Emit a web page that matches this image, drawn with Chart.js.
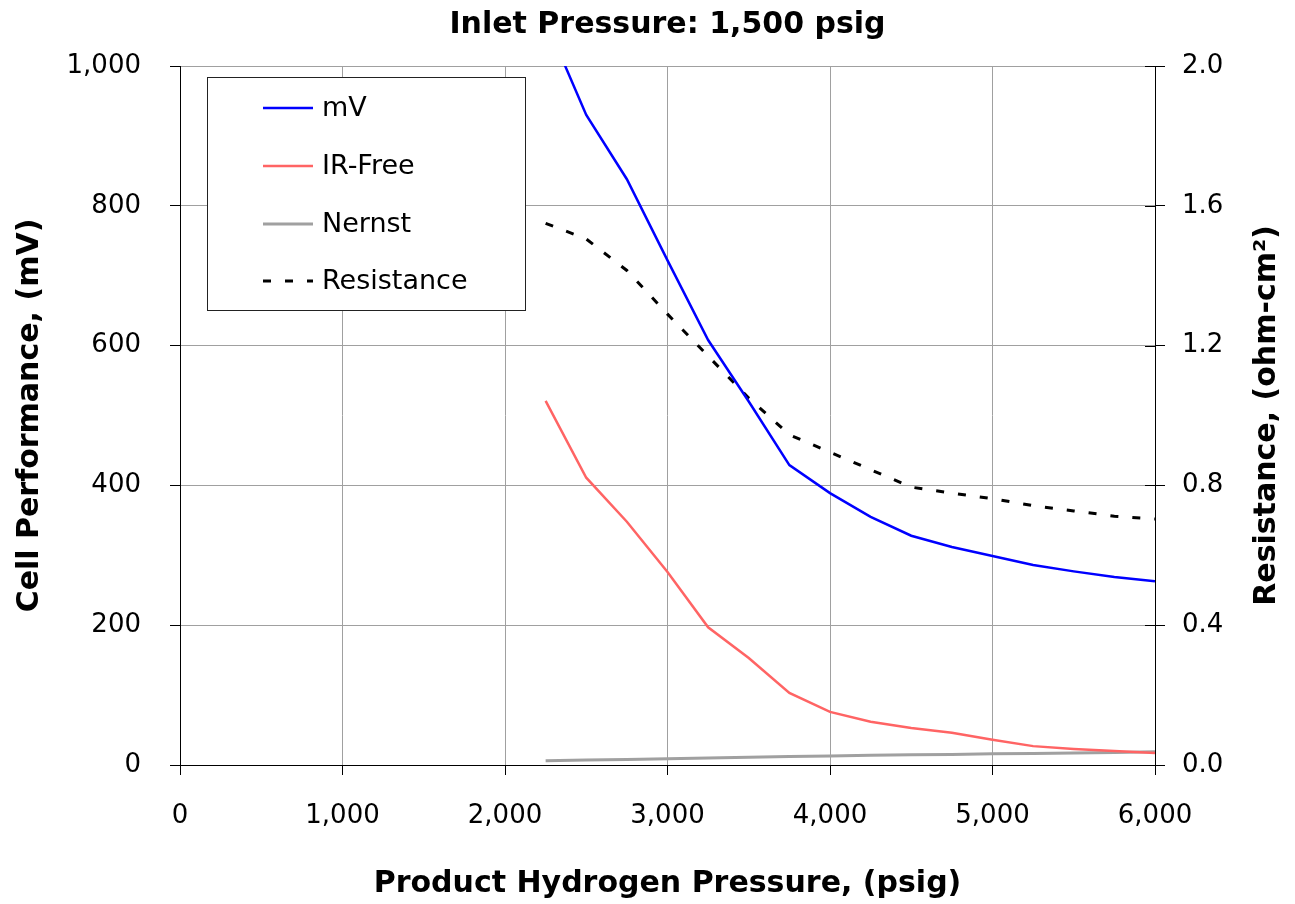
<!DOCTYPE html>
<html>
<head>
<meta charset="utf-8">
<script src="https://cdn.jsdelivr.net/npm/chart.js@4.4.1/dist/chart.umd.min.js"></script>
<style>
  html, body { margin: 0; padding: 0; background: #ffffff; }
  #wrap { width: 1295px; height: 904px; position: relative; }
</style>
</head>
<body>
<div id="wrap"><canvas id="c"></canvas></div>
<script>
// ---- Data ----
const chartTitle = 'Inlet Pressure: 1,500 psig';
const xTitle = 'Product Hydrogen Pressure, (psig)';
const yTitle = 'Cell Performance, (mV)';
const y2Title = 'Resistance, (ohm-cm\u00B2)';

const pressure   = [2250, 2500, 2750, 3000, 3250, 3500, 3750, 4000, 4250, 4500, 4750, 5000, 5250, 5500, 5750, 6000];
const mV         = [1065, 930, 838, 722, 608, 520, 429, 389, 355, 328, 312, 299, 286, 277, 269, 263];
const irFree     = [521, 411, 348, 276, 197, 153, 103, 76, 62, 53, 46, 36, 27, 23, 20, 17];
const nernst     = [6, 7, 8, 9, 10, 11, 12, 13, 14, 14.5, 15, 16, 16.5, 17, 18, 19];
const resistance = [1.55, 1.505, 1.415, 1.29, 1.17, 1.05, 0.945, 0.895, 0.845, 0.795, 0.778, 0.762, 0.742, 0.727, 0.712, 0.704];

const seriesNames = ['mV', 'IR-Free', 'Nernst', 'Resistance'];

const toPts = (xs, ys) => xs.map((x, i) => ({ x: x, y: ys[i] }));

const FONT = '"DejaVu Sans", Arial, sans-serif';

// Legend drawn inside the plot area, in a framed box
const boxLegend = {
  id: 'boxLegend',
  afterDatasetsDraw(chart) {
    const ctx = chart.ctx;
    const bx = 207.5, by = 77.5, bw = 318, bh = 233;
    ctx.save();
    ctx.fillStyle = '#ffffff';
    ctx.fillRect(bx, by, bw, bh);
    ctx.strokeStyle = '#222222';
    ctx.lineWidth = 1;
    ctx.strokeRect(bx, by, bw, bh);
    const rows = [108, 166, 224, 281];
    chart.data.datasets.forEach((ds, i) => {
      const y = rows[i];
      ctx.beginPath();
      ctx.strokeStyle = ds.borderColor;
      ctx.lineWidth = ds.borderWidth;
      ctx.setLineDash(ds.borderDash || []);
      ctx.moveTo(263, y);
      ctx.lineTo(313, y);
      ctx.stroke();
      ctx.setLineDash([]);
      ctx.fillStyle = '#000000';
      ctx.font = '27px ' + FONT;
      ctx.textBaseline = 'middle';
      ctx.textAlign = 'left';
      ctx.fillText(ds.label, 322, y + 1);
    });
    ctx.restore();
  }
};

// Right axis tick marks also cross into the plot area
const innerTicks = {
  id: 'innerTicks',
  beforeDatasetsDraw(chart) {
    const s = chart.scales.y2;
    const ctx = chart.ctx;
    ctx.save();
    ctx.strokeStyle = '#000000';
    ctx.lineWidth = 1;
    s.ticks.forEach(t => {
      const py = Math.round(s.getPixelForValue(t.value)) + 0.5;
      ctx.beginPath();
      ctx.moveTo(s.left - 10, py);
      ctx.lineTo(s.left, py);
      ctx.stroke();
    });
    ctx.restore();
  }
};

// Right axis title reads bottom-to-top, like the left one
const rightTitle = {
  id: 'rightTitle',
  afterDraw(chart) {
    const s = chart.scales.y2;
    const ctx = chart.ctx;
    ctx.save();
    ctx.translate(1267, (s.top + s.bottom) / 2);
    ctx.rotate(-Math.PI / 2);
    ctx.fillStyle = '#000000';
    ctx.font = 'bold 30px ' + FONT;
    ctx.textAlign = 'center';
    ctx.textBaseline = 'middle';
    ctx.fillText(y2Title, 0, 0);
    ctx.restore();
  }
};

new Chart(document.getElementById('c'), {
  type: 'line',
  data: {
    datasets: [
      { label: seriesNames[0], data: toPts(pressure, mV), yAxisID: 'y',
        borderColor: '#0000ff', borderWidth: 2.5, pointRadius: 0, tension: 0, fill: false },
      { label: seriesNames[1], data: toPts(pressure, irFree), yAxisID: 'y',
        borderColor: '#ff6464', borderWidth: 2.5, pointRadius: 0, tension: 0, fill: false },
      { label: seriesNames[2], data: toPts(pressure, nernst), yAxisID: 'y',
        borderColor: '#a0a0a0', borderWidth: 3, pointRadius: 0, tension: 0, fill: false },
      { label: seriesNames[3], data: toPts(pressure, resistance), yAxisID: 'y2',
        borderColor: '#000000', borderWidth: 3, borderDash: [8, 14], pointRadius: 0, tension: 0, fill: false }
    ]
  },
  options: {
    responsive: true,
    maintainAspectRatio: false,
    animation: false,
    layout: { padding: 0 },
    plugins: {
      legend: { display: false },
      tooltip: { enabled: false },
      title: {
        display: true,
        text: chartTitle,
        fullSize: false,
        color: '#000000',
        font: { family: FONT, size: 30, weight: 'bold' },
        padding: { top: 7, bottom: 23 }
      }
    },
    scales: {
      x: {
        type: 'linear',
        min: 0, max: 6000,
        afterFit: s => { s.height = 139; },
        ticks: {
          stepSize: 1000,
          color: '#000000',
          font: { family: FONT, size: 26 },
          padding: 26,
          maxRotation: 0,
          callback: v => Number(v).toLocaleString('en-US')
        },
        grid: { color: '#a0a0a0', lineWidth: 1, tickColor: '#000000', tickLength: 10 },
        border: { color: '#000000', width: 1 },
        title: {
          display: true, text: xTitle, color: '#000000',
          font: { family: FONT, size: 30, weight: 'bold' },
          padding: { top: 0, bottom: 2 }
        }
      },
      y: {
        position: 'left',
        min: 0, max: 1000,
        afterFit: s => { s.width = 180; },
        ticks: {
          stepSize: 200,
          color: '#000000',
          font: { family: FONT, size: 26 },
          padding: 29,
          callback: v => Number(v).toLocaleString('en-US')
        },
        grid: { color: '#a0a0a0', lineWidth: 1, tickColor: '#000000', tickLength: 10 },
        border: { color: '#000000', width: 1 },
        title: {
          display: true, text: yTitle, color: '#000000',
          font: { family: FONT, size: 30, weight: 'bold' },
          padding: { top: 12, bottom: 0 }
        }
      },
      y2: {
        position: 'right',
        min: 0, max: 2,
        afterFit: s => { s.width = 140; },
        ticks: {
          stepSize: 0.4,
          color: '#000000',
          font: { family: FONT, size: 26 },
          padding: 17,
          callback: v => Number(v).toFixed(1)
        },
        grid: { drawOnChartArea: false, tickColor: '#000000', tickLength: 10 },
        border: { color: '#000000', width: 1 },
        title: { display: false }
      }
    }
  },
  plugins: [innerTicks, boxLegend, rightTitle]
});
</script>
</body>
</html>
